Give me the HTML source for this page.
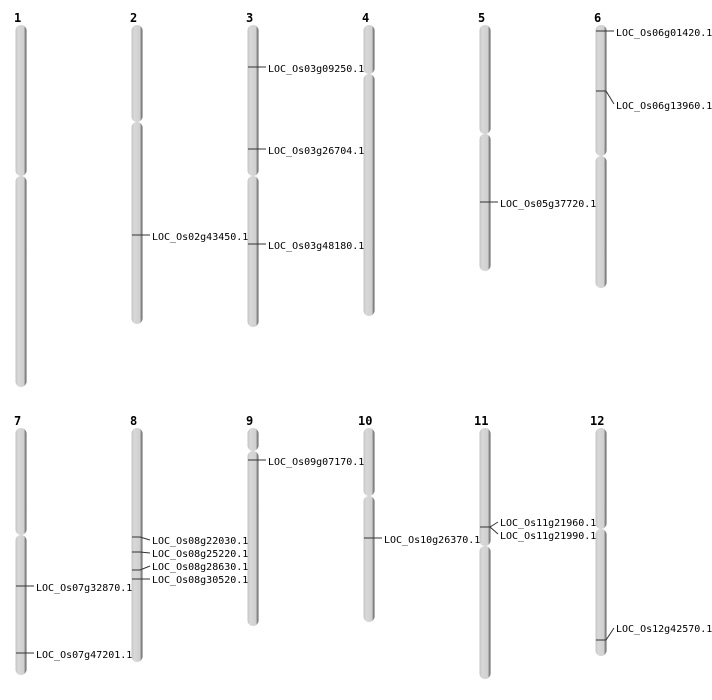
<!DOCTYPE html><html><head><style>body{margin:0;background:#fff}svg{display:block}</style></head><body>
<svg width="712" height="700" xmlns="http://www.w3.org/2000/svg">
<defs><linearGradient id="g" x1="0" x2="1"><stop offset="0" stop-color="#c4c4c4"/><stop offset="0.25" stop-color="#d8d8d8"/><stop offset="0.75" stop-color="#d0d0d0"/><stop offset="0.85" stop-color="#a0a0a0"/><stop offset="1" stop-color="#555"/></linearGradient></defs>
<g font-family="DejaVu Sans Mono, Liberation Mono, monospace" font-size="10" fill="#000">
<g font-weight="bold" font-size="12">
<text x="14" y="22">1</text><text x="130" y="22">2</text><text x="246" y="22">3</text><text x="362" y="22">4</text><text x="478" y="22">5</text><text x="594" y="22">6</text>
<text x="14" y="425">7</text><text x="130" y="425">8</text><text x="246" y="425">9</text><text x="358" y="425">10</text><text x="474" y="425">11</text><text x="590" y="425">12</text>
</g>
<g fill="url(#g)">
<rect x="15.5" y="25" width="11" height="151" rx="5.5"/><rect x="15.5" y="176" width="11" height="211" rx="5.5"/>
<rect x="131.5" y="25" width="11" height="97" rx="5.5"/><rect x="131.5" y="122" width="11" height="202" rx="5.5"/>
<rect x="247.5" y="25" width="11" height="151" rx="5.5"/><rect x="247.5" y="176" width="11" height="151" rx="5.5"/>
<rect x="363.5" y="25" width="11" height="49" rx="5.5"/><rect x="363.5" y="74" width="11" height="242" rx="5.5"/>
<rect x="479.5" y="25" width="11" height="109" rx="5.5"/><rect x="479.5" y="134" width="11" height="137" rx="5.5"/>
<rect x="595.5" y="25" width="11" height="131" rx="5.5"/><rect x="595.5" y="156" width="11" height="132" rx="5.5"/>
<rect x="15.5" y="428" width="11" height="107" rx="5.5"/><rect x="15.5" y="535" width="11" height="140" rx="5.5"/>
<rect x="131.5" y="428" width="11" height="234" rx="5.5"/>
<rect x="247.5" y="428" width="11" height="23" rx="5.5"/><rect x="247.5" y="451" width="11" height="175" rx="5.5"/>
<rect x="363.5" y="428" width="11" height="68" rx="5.5"/><rect x="363.5" y="496" width="11" height="126" rx="5.5"/>
<rect x="479.5" y="428" width="11" height="118" rx="5.5"/><rect x="479.5" y="546" width="11" height="133" rx="5.5"/>
<rect x="595.5" y="428" width="11" height="101" rx="5.5"/><rect x="595.5" y="529" width="11" height="127" rx="5.5"/>
</g>
<g stroke="#333" stroke-width="1" fill="none">
<path d="M132 235H150"/><path d="M248 67H266M248 149H266M248 244H266"/><path d="M480 202H498"/>
<path d="M596 31H614M596 91H606L614 104"/>
<path d="M16 586H34M16 653H34"/>
<path d="M132 537H140L150 540M132 552H140L150 553M132 570H140L150 566M132 579H140L150 579"/>
<path d="M248 460H266"/><path d="M364 538H382"/>
<path d="M480 527H490L498 522M480 527H490L498 534"/><path d="M596 640H606L614 628"/>
</g>
<text x="152" y="240">LOC_Os02g43450.1</text>
<text x="268" y="72">LOC_Os03g09250.1</text><text x="268" y="154">LOC_Os03g26704.1</text><text x="268" y="249">LOC_Os03g48180.1</text>
<text x="500" y="207">LOC_Os05g37720.1</text>
<text x="616" y="36">LOC_Os06g01420.1</text><text x="616" y="109">LOC_Os06g13960.1</text>
<text x="36" y="591">LOC_Os07g32870.1</text><text x="36" y="658">LOC_Os07g47201.1</text>
<text x="152" y="544">LOC_Os08g22030.1</text><text x="152" y="557">LOC_Os08g25220.1</text><text x="152" y="570">LOC_Os08g28630.1</text><text x="152" y="583">LOC_Os08g30520.1</text>
<text x="268" y="465">LOC_Os09g07170.1</text><text x="384" y="543">LOC_Os10g26370.1</text>
<text x="500" y="526">LOC_Os11g21960.1</text><text x="500" y="539">LOC_Os11g21990.1</text>
<text x="616" y="632">LOC_Os12g42570.1</text>
</g></svg></body></html>
